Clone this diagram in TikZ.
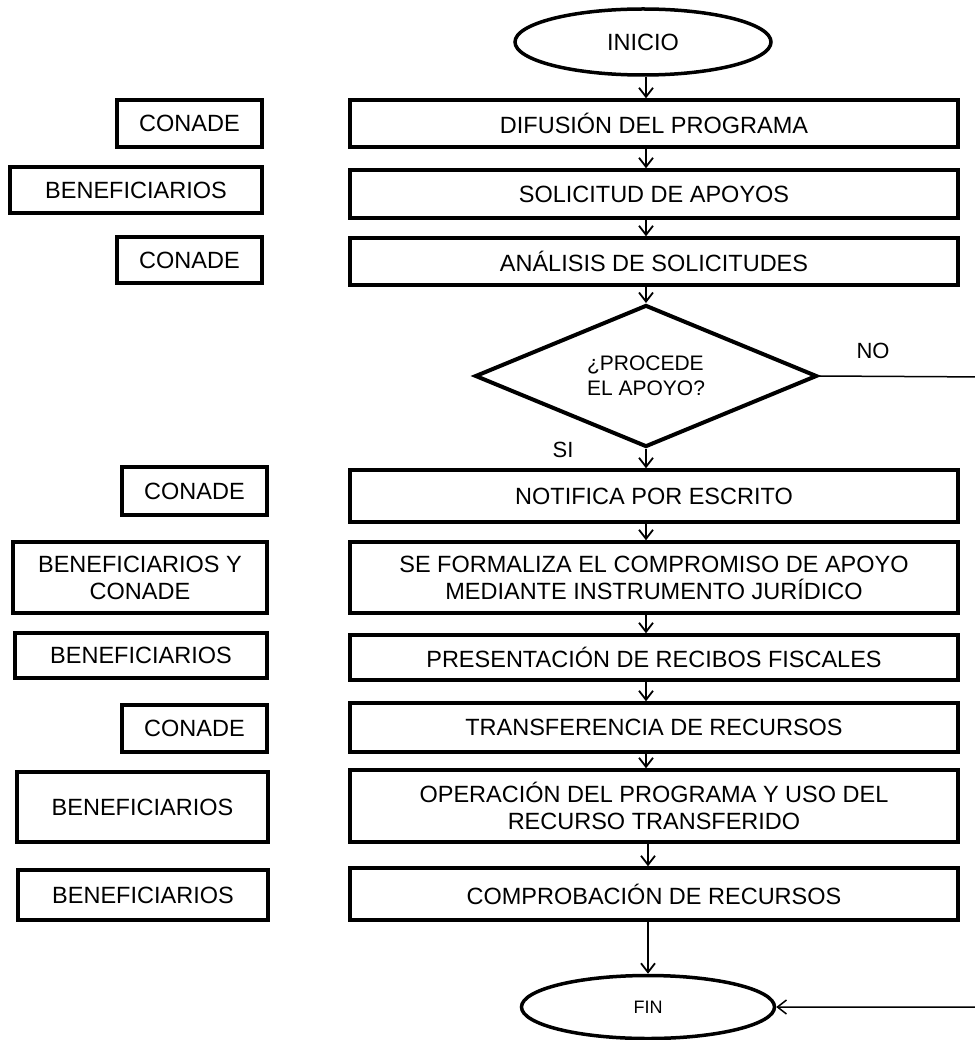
\documentclass[tikz,border=0pt]{standalone}
\usepackage{fontspec}
\setmainfont{Liberation Sans}
\usetikzlibrary{shapes.geometric,arrows.meta}
\tikzset{
  mainbox/.style={draw, line width=3.5pt, rectangle, minimum width=608pt, inner sep=0pt, align=center,
    font=\fontsize{23.5}{27}\selectfont},
  sidebox/.style={draw, line width=3.5pt, rectangle, inner sep=0pt, align=center,
    font=\fontsize{23.5}{27}\selectfont},
  term/.style={draw, line width=3.5pt, ellipse, inner sep=0pt},
  flow/.style={line width=1.8pt, -{Straight Barb[length=9pt,width=14pt,line width=1.8pt]}},
  lbl/.style={font=\fontsize{22}{26}\selectfont, inner sep=0pt}
}
\begin{document}
\begin{tikzpicture}[x=1pt,y=-1pt]
\useasboundingbox (0,0) rectangle (974,1040);
% terminals
\node[term, minimum width=256pt, minimum height=66pt, font=\fontsize{23.5}{27}\selectfont] (inicio) at (643,42) {INICIO};
\node[term, minimum width=253pt, minimum height=63pt, font=\fontsize{18}{22}\selectfont] (fin) at (648,1007) {FIN};
% main column
\node[mainbox, minimum height=47pt] (difusion) at (654,123.5) {DIFUSIÓN DEL PROGRAMA};
\node[mainbox, minimum height=48pt] (solicitud) at (654,194) {SOLICITUD DE APOYOS};
\node[mainbox, minimum height=47pt] (analisis) at (654,261.5) {ANÁLISIS DE SOLICITUDES};
\node[draw, line width=4pt, diamond, aspect=2.4, minimum width=342pt, minimum height=142pt, inner sep=0pt,
  align=left, font=\fontsize{21}{25}\selectfont] (decision) at (646,376) {¿PROCEDE\\EL APOYO?};
\node[mainbox, minimum height=52pt] (notifica) at (654,496) {NOTIFICA POR ESCRITO};
\node[mainbox, minimum height=71pt] (formaliza) at (654,577.5) {SE FORMALIZA EL COMPROMISO DE APOYO\\MEDIANTE INSTRUMENTO JURÍDICO};
\node[mainbox, minimum height=45pt] (presentacion) at (654,657.5) {PRESENTACIÓN DE RECIBOS FISCALES};
\node[mainbox, minimum height=49pt] (transferencia) at (654,727.5) {TRANSFERENCIA DE RECURSOS};
\node[mainbox, minimum height=72pt] (operacion) at (654,806) {OPERACIÓN DEL PROGRAMA Y USO DEL\\RECURSO TRANSFERIDO};
\node[mainbox, minimum height=52pt] (comprobacion) at (654,894) {COMPROBACIÓN DE RECURSOS};
% side column
\node[sidebox, minimum width=145pt, minimum height=47pt] (c1) at (189.5,123.5) {CONADE};
\node[sidebox, minimum width=252pt, minimum height=46pt] (b1) at (136,190) {BENEFICIARIOS};
\node[sidebox, minimum width=145pt, minimum height=46pt] (c2) at (189.5,260) {CONADE};
\node[sidebox, minimum width=145pt, minimum height=48pt] (c3) at (194.5,491) {CONADE};
\node[sidebox, minimum width=254pt, minimum height=71pt] (bc) at (140,577.5) {BENEFICIARIOS Y\\CONADE};
\node[sidebox, minimum width=252pt, minimum height=45pt] (b2) at (141,655.5) {BENEFICIARIOS};
\node[sidebox, minimum width=145pt, minimum height=47pt] (c4) at (194.5,728.5) {CONADE};
\node[sidebox, minimum width=251pt, minimum height=70pt] (b3) at (142.5,807) {BENEFICIARIOS};
\node[sidebox, minimum width=250pt, minimum height=50pt] (b4) at (143,895) {BENEFICIARIOS};
% labels
\node[lbl] (no) at (873,351) {NO};
\node[lbl] (si) at (563,450) {SI};
% connectors
\draw[flow] (inicio.south -| decision) -- (difusion.north -| decision);
\draw[flow] (difusion.south -| decision) -- (solicitud.north -| decision);
\draw[flow] (solicitud.south -| decision) -- (analisis.north -| decision);
\draw[flow] (analisis.south -| decision) -- (decision.north);
\draw[flow] (decision.south) -- (notifica.north -| decision);
\draw[flow] (notifica.south -| decision) -- (formaliza.north -| decision);
\draw[flow] (formaliza.south -| decision) -- (presentacion.north -| decision);
\draw[flow] (presentacion.south -| decision) -- (transferencia.north -| decision);
\draw[flow] (transferencia.south -| decision) -- (operacion.north -| decision);
\draw[flow] (operacion.south -| fin) -- (comprobacion.north -| fin);
\draw[flow] (comprobacion.south -| fin) -- (fin.north);
\coordinate (turn) at (990,377);
\draw[line width=1.5pt, -{Straight Barb[length=9pt,width=14pt,line width=1.5pt]}] (decision.east) -- (turn) |- (fin.east);
\end{tikzpicture}
\end{document}
